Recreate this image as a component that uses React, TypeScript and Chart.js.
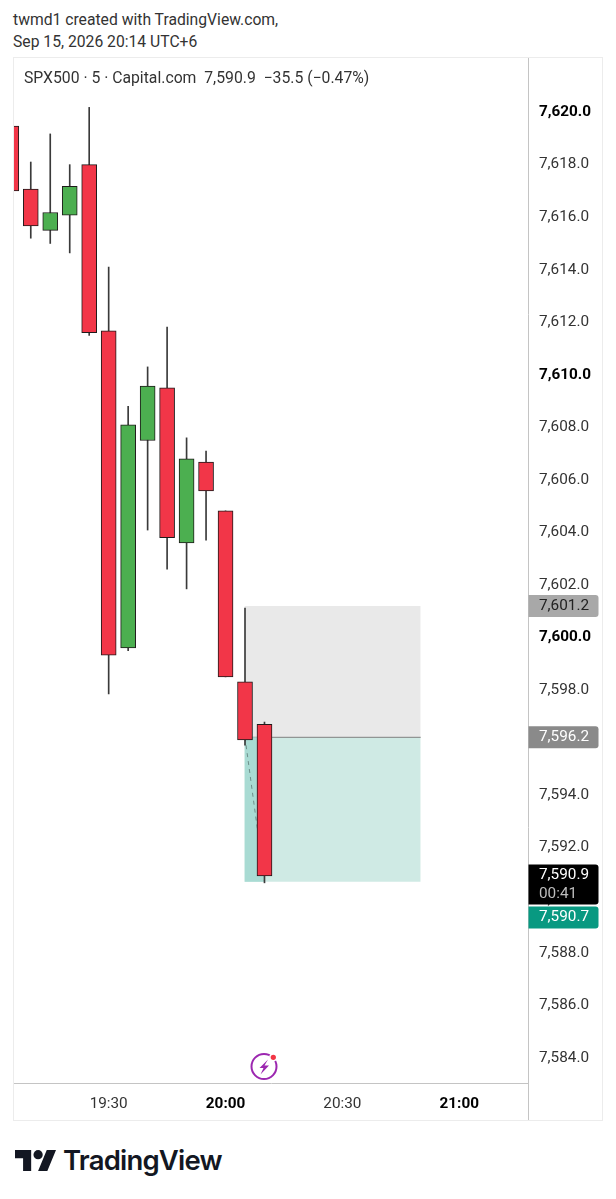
import React, { useEffect, useRef } from "react";
import { Chart, registerables } from "chart.js";

Chart.register(...registerables);

// candles, oldest first, index 0 is cut by the left edge of the pane
const opens = [7619.47, 7617.07, 7615.5, 7616.08, 7618.0, 7611.67, 7599.6, 7607.5, 7609.5, 7603.6, 7606.68, 7604.82, 7598.31, 7596.69];
const closes = [7617.0, 7615.67, 7616.18, 7617.17, 7611.6, 7599.33, 7608.1, 7609.57, 7603.8, 7606.8, 7605.58, 7598.5, 7596.1, 7590.92];
const highs = [7619.47, 7618.1, 7619.17, 7618.0, 7620.18, 7614.1, 7608.8, 7610.3, 7611.82, 7607.6, 7607.1, 7604.82, 7601.12, 7596.78];
const lows = [7617.0, 7615.2, 7615.0, 7614.64, 7611.5, 7597.85, 7599.5, 7604.09, 7602.6, 7601.85, 7603.7, 7598.5, 7595.9, 7590.66];

const priceTicks = [7584, 7586, 7588, 7590, 7592, 7594, 7596, 7598, 7600, 7602, 7604, 7606, 7608, 7610, 7612, 7614, 7616, 7618, 7620];
const boldPrices = [7600, 7610, 7620];
const timeTicks = [5, 11, 17, 23];
const timeLabels = ["19:30", "20:00", "20:30", "21:00"];
const boldTimes = [11, 23];

// long position drawing
const boxStart = 11.97;
const boxEnd = 21.02;
const barNow = 13;
const stopPrice = 7601.2;
const entryPrice = 7596.2;
const targetPrice = 7590.7;

const priceTags = [
  { price: 7601.2, text: "7,601.2", bg: "#a8a8a8", fg: "#222222" },
  { price: 7596.2, text: "7,596.2", bg: "#8a8a8a", fg: "#ffffff" },
];
const lastPrice = 7590.9;
const lastText = "7,590.9";
const countdown = "00:41";
const targetText = "7,590.7";

const RED = "#f23648";
const GREEN = "#4caf50";
const BORDER = "#1e1a1a";
const TICK_FONT = "Roboto";

const tagPlugin = {
  id: "priceTags",
  afterDraw(chart: any) {
    const { ctx, chartArea, scales } = chart;
    const x = chartArea.right + 0.5;
    const w = 70;
    const y = scales.y;
    const box = (top: number, h: number, bg: string) => {
      ctx.fillStyle = bg;
      ctx.beginPath();
      ctx.roundRect(x, top, w, h, [0, 3, 3, 0]);
      ctx.fill();
    };
    const label = (s: string, cy: number, fg: string) => {
      ctx.fillStyle = fg;
      ctx.fillText(s, x + 10.5, cy);
    };
    ctx.save();
    // axis line carries on through the time scale
    ctx.strokeStyle = "#c4c4c4";
    ctx.beginPath();
    ctx.moveTo(x, chartArea.bottom);
    ctx.lineTo(x, chart.height);
    ctx.stroke();

    ctx.font = `15.3px ${TICK_FONT}`;
    ctx.textAlign = "left";
    ctx.textBaseline = "middle";
    priceTags.forEach((t) => {
      const py = y.getPixelForValue(t.price);
      box(py - 11, 22, t.bg);
      label(t.text, py, t.fg);
    });
    const top = y.getPixelForValue(lastPrice) - 12;
    box(top, 40, "#000000");
    label(lastText, top + 10.5, "#ffffff");
    label(countdown, top + 29.5, "#bdbdbd");
    // the target tag gets pushed under the countdown tag
    box(top + 42, 22, "#089981");
    label(targetText, top + 53, "#ffffff");
    ctx.restore();
  },
};

const flatLine = (price: number, from: number, to: number, fill: number, bg: string, line = "transparent", order = 10) => ({
  type: "line",
  data: [
    { x: from, y: price },
    { x: to, y: price },
  ],
  borderColor: line,
  borderWidth: 1,
  backgroundColor: bg,
  pointRadius: 0,
  fill: { value: fill },
  order,
});

const App: React.FC = () => {
  const canvasRef = useRef<HTMLCanvasElement>(null);

  useEffect(() => {
    const ctx = canvasRef.current?.getContext("2d");
    if (!ctx) return;
    const xs = opens.map((_, i) => i);
    const chart = new Chart(ctx, {
      type: "bar",
      data: {
        datasets: [
          flatLine(stopPrice, boxStart, boxEnd, entryPrice, "#e9e9e9", "transparent", 12),
          flatLine(entryPrice, boxStart, boxEnd, targetPrice, "#cfeae4", "#808080", 11),
          flatLine(entryPrice, boxStart, barNow, targetPrice, "#a9dbd3", "transparent", 10),
          {
            type: "line",
            data: [
              { x: 12, y: entryPrice },
              { x: barNow, y: targetPrice },
            ],
            borderColor: "#6f8f8a",
            borderWidth: 1,
            borderDash: [4, 4],
            pointRadius: 0,
            order: 9,
          },
          {
            type: "bar",
            data: xs.map((x) => ({ x, y: [lows[x], highs[x]] })),
            backgroundColor: "#3a3a3a",
            barThickness: 1,
            grouped: false,
            order: 2,
          },
          {
            type: "bar",
            data: xs.map((x) => ({ x, y: [opens[x], closes[x]] })),
            backgroundColor: xs.map((x) => (closes[x] >= opens[x] ? GREEN : RED)),
            borderColor: BORDER,
            borderWidth: 1,
            borderSkipped: false,
            barThickness: 15,
            grouped: false,
            order: 1,
          },
        ] as any,
      },
      options: {
        animation: false,
        responsive: false,
        layout: { padding: 0, autoPadding: false },
        plugins: { legend: { display: false }, tooltip: { enabled: false }, title: { display: false } },
        scales: {
          x: {
            type: "linear",
            offset: false,
            min: 0.139,
            max: 26.53,
            grid: { display: false, offset: false, tickLength: 0 },
            border: { display: true, color: "#c4c4c4" },
            afterFit: (s: any) => {
              s.height = 37;
            },
            afterBuildTicks: (s: any) => {
              s.ticks = timeTicks.map((value) => ({ value }));
            },
            ticks: {
              autoSkip: false,
              maxRotation: 0,
              padding: 12,
              color: (c: any) => (boldTimes.includes(c.tick?.value) ? "#000000" : "#333333"),
              font: (c: any) => ({
                family: TICK_FONT,
                size: 15.3,
                weight: boldTimes.includes(c.tick?.value) ? "bold" : "normal",
              }),
              callback: (v: any) => timeLabels[timeTicks.indexOf(v)],
            },
          },
          y: {
            type: "linear",
            position: "right",
            min: 7583.04,
            max: 7622.06,
            grid: { display: false, tickLength: 0 },
            border: { display: true, color: "#c4c4c4" },
            afterFit: (s: any) => {
              s.width = 74;
              s.paddingTop = 0;
              s.paddingBottom = 0;
            },
            afterBuildTicks: (s: any) => {
              s.ticks = priceTicks.map((value) => ({ value }));
            },
            ticks: {
              padding: 11,
              color: (c: any) => (boldPrices.includes(c.tick?.value) ? "#000000" : "#333333"),
              font: (c: any) => ({
                family: TICK_FONT,
                size: 15.3,
                weight: boldPrices.includes(c.tick?.value) ? "bold" : "normal",
              }),
              callback: (v: any) => v.toLocaleString("en-US", { minimumFractionDigits: 1 }),
            },
          },
        },
      },
      plugins: [tagPlugin],
    } as any);
    return () => chart.destroy();
  }, []);

  const text: React.CSSProperties = {
    position: "absolute",
    fontFamily: "Roboto",
    color: "#333333",
    whiteSpace: "pre",
    lineHeight: "20px",
  };

  return (
    <div style={{ position: "absolute", left: 0, top: 0, width: 616, height: 1199, background: "#fff", overflow: "hidden" }}>
      <div style={{ ...text, left: 13, top: 10, fontSize: 15.7 }}>twmd1 created with TradingView.com,</div>
      <div style={{ ...text, left: 13, top: 32, fontSize: 15.7 }}>Sep 15, 2026 20:14 UTC+6</div>
      <div style={{ position: "absolute", left: 13, top: 57, width: 590, height: 1064, boxSizing: "border-box", border: "1px solid #ececec" }} />
      <canvas ref={canvasRef} width={588} height={1062} style={{ position: "absolute", left: 14, top: 58 }} />
      <div style={{ ...text, left: 24, top: 68, fontSize: 15.75 }}>SPX500 · 5 · Capital.com  7,590.9  −35.5 (−0.47%)</div>
      <svg width="34" height="34" viewBox="0 0 34 34" style={{ position: "absolute", left: 248, top: 1050 }}>
        <circle cx="16" cy="16.5" r="12.5" fill="none" stroke="#9c27b0" strokeWidth="2" />
        <path d="M20 9.5 L11.5 18 H15.5 L12.5 24.5 L21 15.5 H16.5 Z" fill="#9c27b0" />
        <circle cx="25.3" cy="7.3" r="3.4" fill="#f23645" stroke="#ffffff" strokeWidth="1.5" />
      </svg>
      <svg width="41" height="21" viewBox="0 4 35.5 18" style={{ position: "absolute", left: 15, top: 1150 }}>
        <path d="M14 22H7V11H0V4h14v18zM28 22h-8l7.5-18h8L28 22z" fill="#131722" />
        <circle cx="20" cy="8" r="4" fill="#131722" />
      </svg>
      <div style={{ ...text, left: 63, top: 1145, fontFamily: "Inter", fontWeight: 600, fontSize: 27.5, lineHeight: "30px", color: "#131722", letterSpacing: -0.8 }}>TradingView</div>
    </div>
  );
};

export default App;
